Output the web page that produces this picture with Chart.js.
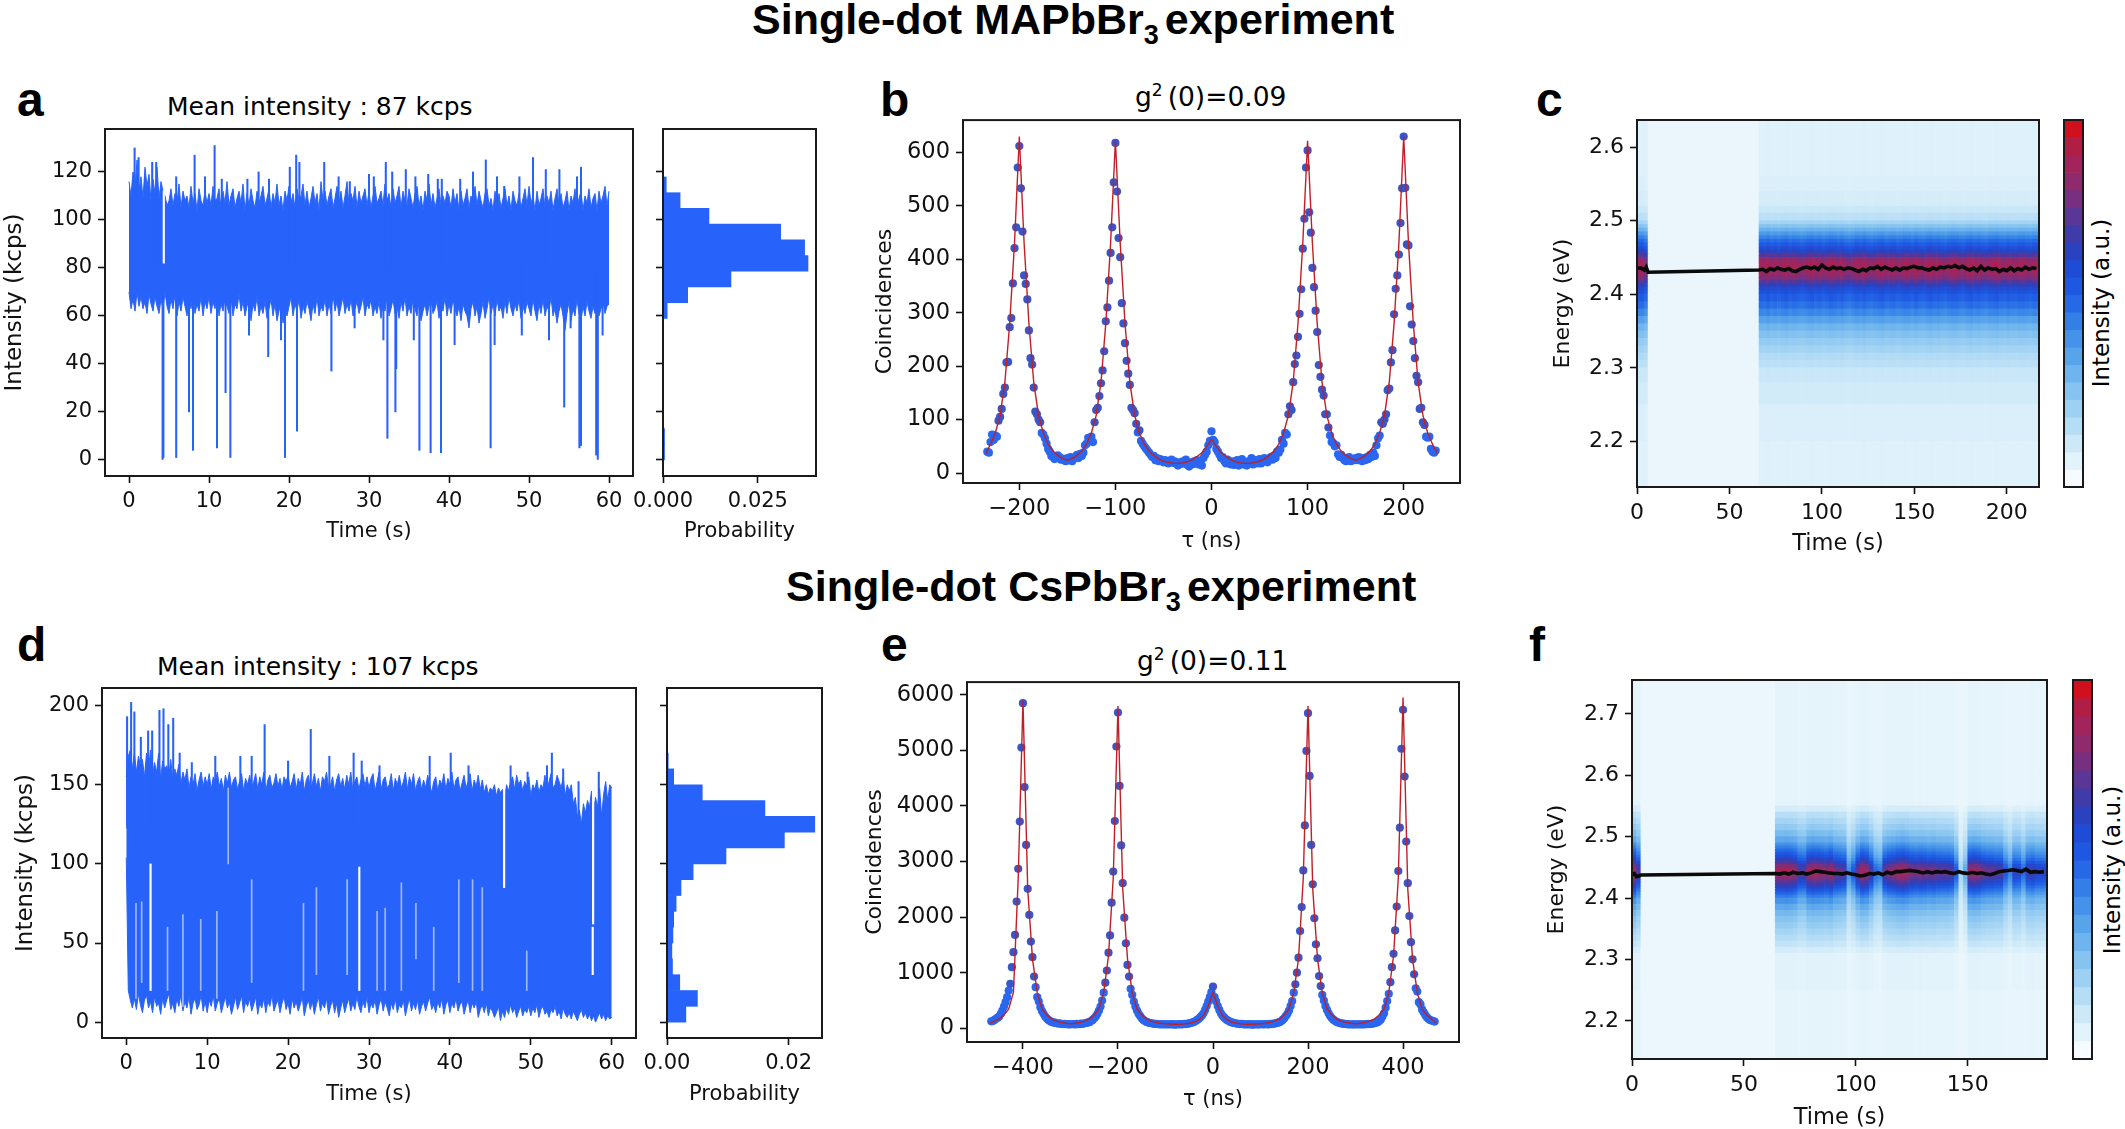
<!DOCTYPE html>
<html>
<head>
<meta charset="utf-8">
<title>Single-dot experiments</title>
<script src="https://cdn.jsdelivr.net/npm/chart.js@4/dist/chart.umd.min.js"></script>
<style>
    html, body { margin: 0; background: #fff; }
    #page { position: relative; width: 2125px; height: 1129px; overflow: hidden; }
    canvas { position: absolute; }
    .heading, .letter, .sub, .barlabel { position: absolute; white-space: nowrap; color: #000; line-height: 1; }
    .heading { font: bold 43px "Liberation Sans"; line-height: 1; }
    .heading sub { font-size: 27px; line-height: 0; margin-right: 6px; }
    .letter { font: bold 48px "Liberation Sans"; line-height: 1; }
    .sub { font: 25px "DejaVu Sans"; line-height: 1; }
    .sub.g { font-size: 26.5px; }
    .sub sup { font-size: 17px; line-height: 0; margin-right: 5px; }
    .barlabel { font: 23px "DejaVu Sans"; line-height: 1; transform: translate(-50%, -50%) rotate(-90deg); }
</style>
</head>
<body>
<div id="page">
    <div class="heading" style="left:752px;top:-2px">Single-dot MAPbBr<sub>3</sub>experiment</div>
    <div class="heading" style="left:786px;top:565px">Single-dot CsPbBr<sub>3</sub>experiment</div>
    <div class="letter" style="left:17px;top:76px">a</div>
    <div class="letter" style="left:880px;top:76px">b</div>
    <div class="letter" style="left:1536px;top:76px">c</div>
    <div class="letter" style="left:17px;top:621px">d</div>
    <div class="letter" style="left:881px;top:621px">e</div>
    <div class="letter" style="left:1529px;top:621px">f</div>
    <div class="sub" style="left:167px;top:94px">Mean intensity : 87 kcps</div>
    <div class="sub" style="left:157px;top:654px">Mean intensity : 107 kcps</div>
    <div class="sub g" style="left:1135px;top:84px">g<sup>2</sup>(0)=0.09</div>
    <div class="sub g" style="left:1137px;top:648px">g<sup>2</sup>(0)=0.11</div>
    <div class="barlabel" style="left:2101px;top:303px">Intensity (a.u.)</div>
    <div class="barlabel" style="left:2112px;top:870px">Intensity (a.u.)</div>
</div>
<script>
// panel a: intensity trace, envelope read every 0.25 s
const traceStep = 0.25;
const aTop = [
    116,110,120,113,125,112,118,109,122,114,119,108,117,111,122,109,116,112,110,106,108,113,106,111,107,115,105,112,108,110,105,114,107,111,104,113,108,106,112,107,
    111,106,114,108,109,113,105,112,107,116,106,110,113,105,109,112,107,115,104,111,106,113,108,105,112,107,110,114,106,109,113,105,111,107,115,106,110,104,112,108,
    114,107,111,105,113,108,110,115,106,112,105,109,114,107,111,104,116,108,112,106,110,113,105,109,114,107,112,105,110,116,106,111,108,114,105,112,107,110,113,106,
    112,105,110,114,107,109,112,106,115,108,111,105,113,107,110,114,105,112,108,106,113,109,105,111,114,106,110,104,112,108,115,106,111,105,109,113,106,110,107,112,
    110,105,113,107,111,104,112,106,109,113,105,110,107,114,106,112,108,105,111,113,106,109,104,112,107,111,105,109,113,106,110,104,112,108,106,111,105,109,113,106,
    114,107,110,104,112,106,109,113,105,110,107,112,104,109,113,106,111,105,108,112,104,110,107,113,105,109,112,104,110,107,113,105,109,111,104,112,107,110,114,106,
    112];
const aBottom = [
    70,63,67,62,70,64,68,63,66,61,69,65,62,68,64,61,67,63,70,64,61,67,63,69,60,66,62,68,64,60,67,63,69,61,65,62,68,60,66,63,
    68,61,66,63,69,60,65,62,67,64,61,68,60,65,63,69,62,66,60,64,67,58,65,62,68,60,64,61,66,59,63,67,60,65,58,62,66,57,63,60,
    64,68,60,65,62,67,59,64,61,66,63,58,65,61,68,60,64,62,67,60,65,61,69,62,66,60,64,68,61,65,62,67,60,63,66,61,64,68,60,65,
    63,67,60,64,61,66,59,65,62,68,60,63,67,61,64,59,66,62,68,60,64,61,67,63,60,66,58,62,65,60,64,67,61,63,66,59,64,62,68,60,
    65,61,67,63,60,64,58,65,62,60,55,63,66,60,64,57,61,66,59,63,68,61,65,60,67,62,64,59,66,61,68,63,60,65,62,67,59,64,61,66,
    63,60,67,62,58,65,61,67,60,64,62,68,60,63,57,62,65,60,54,61,66,58,63,60,67,61,58,64,60,66,62,59,64,61,67,60,63,66,61,64,
    65];
const aPeakTimes = [0.7,1.2,2.0,2.9,3.4,5.9,8.2,9.5,10.7,11.6,14.8,16.2,17.5,20.1,20.9,21.3,24.4,26.2,27.6,30.0,30.6,32.1,32.9,34.6,35.8,37.4,38.6,39.1,41.4,43.0,44.6,46.0,46.9,48.8,50.5,52.1,53.8,56.0,56.5];
const aPeakValues = [130,126,118,124,124,118,127,118,131,117,117,120,117,122,127,124,124,118,116,119,118,124,120,121,118,119,117,117,117,120,125,118,114,118,126,121,121,118,122];
const aDipTimes = [4.2,4.3,5.9,7.5,8.0,11.0,12.07,12.67,15.0,17.4,19.0,19.5,21.0,25.3,28.2,31.8,32.3,33.3,33.4,35.6,36.3,37.7,39.0,40.7,45.2,45.7,49.1,52.5,54.4,55.2,56.3,56.5,58.4,58.6,59.2];
const aDipValues = [0,1,1,20,4,5,28,1,52,43,50,1,12,37,55,50,9,20,38,50,4,3,3,48,5,48,52,50,22,55,5,6,2,0,52];
const aGapTimes = [4.35];
const aGapLow = [82];
const aGapHigh = [112];
const aHistCenters = [3.28,9.83,16.38,22.93,29.48,36.03,42.58,49.13,55.68,62.23,68.78,75.33,81.88,88.43,94.98,101.53,108.08,114.63];
const aHistValues = [0.0004,0.0004,0,0,0,0,0,0,0.0001,0.0011,0.0065,0.0179,0.0382,0.0373,0.031,0.0121,0.0045,0.00085];

// panel d: intensity trace
const dTop = [
    155,168,172,160,170,158,168,162,166,155,170,160,172,156,164,158,170,154,165,160,162,155,166,152,160,156,163,150,158,153,160,148,155,150,157,146,153,158,149,155,
    150,157,147,155,152,158,149,154,146,156,151,158,148,153,155,147,152,157,146,154,150,156,148,152,157,147,155,150,158,146,153,156,148,151,157,149,154,147,155,152,
    156,148,152,157,147,154,150,158,146,153,156,147,151,157,149,154,146,155,152,158,148,150,155,146,153,157,149,154,147,156,150,158,146,152,155,147,153,157,149,155,
    148,154,157,146,152,158,147,153,155,148,150,157,146,154,150,156,148,152,158,147,155,150,157,146,152,155,147,153,148,156,150,145,152,155,146,153,150,157,147,154,
    150,158,147,153,155,146,151,156,148,152,157,146,153,149,156,147,153,145,150,144,148,146,150,143,148,145,147,142,150,146,152,155,147,156,150,153,146,152,149,155,
    143,150,147,153,145,150,148,156,146,152,157,148,150,156,152,148,155,143,150,146,150,138,142,130,134,125,138,132,140,136,146,134,142,136,148,130,144,152,140,150,
    148];
const dBottom = [
    104,20,14,9,15,8,18,11,6,14,17,9,13,6,16,10,12,5,15,9,14,18,8,12,6,15,10,17,7,13,9,16,5,12,15,8,11,17,7,13,
    6,14,10,17,7,12,15,6,11,16,9,13,5,10,16,8,12,17,6,13,10,15,7,11,16,5,12,9,15,6,13,10,17,7,11,14,6,12,16,8,
    12,5,15,9,13,7,11,16,4,10,14,8,13,5,11,16,7,12,9,15,5,10,14,6,12,3,9,14,6,11,15,7,12,8,16,10,6,13,9,16,
    6,12,9,14,5,11,15,7,13,9,4,12,8,15,6,11,9,14,4,10,15,7,12,8,14,5,10,13,7,12,16,8,11,6,13,9,15,5,11,14,
    6,12,9,15,7,11,13,5,10,14,6,12,9,13,3,8,11,6,12,4,9,7,3,6,10,1,7,3,9,5,11,6,9,3,7,10,4,8,6,10,
    4,9,6,11,3,8,10,5,7,3,8,6,10,4,7,2,9,5,3,6,2,7,4,1,5,8,3,6,2,5,1,4,0,3,6,2,5,1,4,2,
    3];
const dPeakTimes = [0.1,0.6,1.0,1.8,2.7,3.2,4.1,4.6,5.2,5.8,6.6,8.1,11,14.1,15.5,17.1,20,22.8,25.1,28.1,29.1,31.3,37.5,40.1,42.3,47.5,49.6,52,52.6,54,55.9,58.4];
const dPeakValues = [193,202,196,180,184,184,197,198,188,192,170,164,168,168,168,188,165,185,168,170,165,162,168,170,162,162,158,162,170,160,152,158];
const dGapTimes = [3.0,28.8,46.7,57.7,57.65];
const dGapLow = [20,20,85,62,30];
const dGapHigh = [100,98,150,150,60];
const dThinGapTimes = [1.2,1.9,5.1,7.0,9.2,11.2,12.6,15.5,21.9,23.5,27.3,31,32,34,35.8,38,41.1,42.8,44,49.5];
const dThinGapLow = [15,25,20,10,20,15,100,25,20,30,30,20,20,20,40,20,25,20,20,20];
const dThinGapHigh = [75,76,60,68,65,70,148,90,75,85,90,70,72,88,75,60,90,90,85,45];
const dHistCenters = [5,15,25,35,45,55,65,75,85,95,105,115,125,135,145,155,165];
const dHistValues = [0.0031,0.005,0.0021,0.0009,0.0008,0.00097,0.0011,0.0015,0.0023,0.0043,0.0097,0.0193,0.0243,0.0161,0.0058,0.0011,0.0002];

// panels b and e: coincidence bins, one value per bin from the first bin onwards
const bFirstTau = -233.33;
const bTauStep = 5 / 3;
const bCounts = [
    40,38,58,72,62,70,68,98,105,120,148,160,207,208,273,290,355,421,460,572,
    612,
    533,452,370,354,325,267,215,203,160,115,110,100,95,75,72,65,55,45,40,32,30,26,28,33,30,25,27,24,22,28,
    24,30,22,26,30,34,28,36,32,38,52,55,66,60,68,58,95,118,122,144,168,192,228,284,310,360,412,460,544,
    618,
    527,440,404,318,280,243,210,186,165,122,118,112,92,76,80,60,55,50,46,42,38,34,30,32,24,28,22,26,24,20,
    24,20,18,22,25,19,22,18,14,20,17,22,18,25,15,12,20,16,22,18,24,16,20,14,28,34,40,52,60,
    78,
    62,58,45,40,34,28,30,22,18,25,20,16,22,15,18,24,14,19,26,16,20,14,22,18,28,16,24,20,18,26,
    18,22,28,24,20,26,30,25,32,28,40,38,44,62,55,75,72,110,125,118,170,204,220,255,298,344,420,476,572,
    604,
    488,450,384,348,304,264,202,180,156,145,110,110,85,70,58,56,50,52,35,30,34,28,24,22,26,30,22,25,24,28,
    24,30,26,22,28,24,30,26,34,30,38,32,52,65,70,95,92,100,110,155,158,207,230,297,345,370,409,468,533,
    630,
    534,428,426,312,278,247,215,182,170,120,122,95,90,68,66,68,45,40,38,42];
const bFitTau = [-235,-230,-225,-220,-215,-210,-205,-200,-195,-190,-185,-180,-175,-170,-165,-160,-155,-150,-145,-140,-135,-130,-125,-120,-115,-110,-105,-100,-95,-90,-85,-80,-75,-70,-65,-60,-55,-50,-45,-40,-35,-30,-25,-20,-15,-10,-5,0,5,10,15,20,25,30,35,40,45,50,55,60,65,70,75,80,85,90,95,100,105,110,115,120,125,130,135,140,145,150,155,160,165,170,175,180,185,190,195,200,205,210,215,220,225,230,235];
const bFitCounts = [36,54,75,108,170,280,430,630,430,280,170,108,75,54,41,33,27,24,27,33,41,54,75,108,170,280,430,622,430,280,170,108,75,54,41,33,26,22,20,18,18,19,21,25,31,38,50,63,50,38,31,25,21,19,18,18,20,22,26,33,41,54,75,108,170,280,430,622,430,280,170,108,75,54,41,33,27,24,27,33,41,54,75,108,170,280,430,630,430,280,170,108,75,54,36];

const eFirstTau = -466.67;
const eTauStep = 10 / 3;
const eCounts = [
    125,130,150,170,190,210,260,320,390,470,560,680,800,1100,1370,1680,2280,2870,3720,5050,
    5850,
    4340,3300,2510,2040,1560,1280,930,740,560,480,380,310,260,210,180,150,130,115,105,100,95,85,90,80,75,80,72,75,70,72,
    72,75,70,80,72,78,85,80,90,95,105,110,130,150,180,210,260,320,390,500,640,820,1040,1360,1670,2260,2820,3730,5070,
    5680,
    4360,3290,2610,1990,1530,1140,930,710,600,480,390,320,260,220,180,150,130,115,105,95,90,85,80,78,75,72,70,75,68,72,
    70,72,68,75,70,65,72,68,75,70,72,78,75,82,88,95,105,115,130,150,170,200,230,270,330,400,480,560,650,
    750,
    560,480,400,330,270,225,195,165,145,130,115,105,95,90,85,80,75,78,72,70,72,68,75,70,65,70,72,68,70,72,
    72,68,75,72,70,78,75,82,85,90,100,110,125,150,180,220,260,320,400,490,640,790,1000,1270,1750,2180,2840,3650,4990,
    5670,
    4540,3300,2590,1980,1510,1260,940,760,600,500,400,330,270,220,185,155,135,115,105,95,88,82,78,75,72,70,72,68,70,72,
    68,72,70,72,68,75,72,78,75,80,85,90,100,110,130,160,210,270,370,490,620,830,1100,1340,1760,2190,2830,3610,5030,
    5730,
    4530,3360,2610,2020,1550,1240,970,720,660,470,430,340,290,240,200,170,150,140,130,120];
const eFitTau = [-470,-460,-450,-440,-430,-420,-410,-400,-390,-380,-370,-360,-350,-340,-330,-320,-310,-300,-290,-280,-270,-260,-250,-240,-230,-220,-210,-200,-190,-180,-170,-160,-150,-140,-130,-120,-110,-100,-90,-80,-70,-60,-50,-40,-30,-20,-10,0,10,20,30,40,50,60,70,80,90,100,110,120,130,140,150,160,170,180,190,200,210,220,230,240,250,260,270,280,290,300,310,320,330,340,350,360,370,380,390,400,410,420,430,440,450,460,470];
const eFitCounts = [90,130,170,240,350,650,2700,5900,2500,1250,640,350,240,170,130,105,90,80,90,105,130,170,240,350,650,1300,2700,5800,2500,1250,640,350,240,170,130,105,90,80,76,72,72,80,90,110,150,230,400,640,400,230,150,110,90,80,72,72,76,80,90,105,130,170,240,350,640,1250,2700,5800,2500,1250,640,350,240,170,130,105,90,80,90,105,130,170,240,350,640,1300,2700,5950,2500,1250,640,350,240,170,90];

// panels c and f: spectra over time, energy bands times a gain per 2 s column
const columnWidth = 2;
const cEnergyEdges = [2.138,2.2,2.25,2.28,2.30,2.31,2.32,2.33,2.34,2.35,2.36,2.37,2.38,2.39,2.40,2.405,2.41,2.415,2.42,2.425,2.43,2.435,2.44,2.445,2.45,2.455,2.46,2.465,2.47,2.475,2.48,2.485,2.49,2.495,2.50,2.51,2.52,2.54,2.56,2.637];
const cBandLevels = [.03,.04,.06,.08,.11,.13,.16,.19,.23,.27,.33,.40,.46,.51,.55,.59,.64,.72,.80,.85,.87,.88,.87,.82,.72,.63,.57,.52,.47,.41,.35,.28,.22,.16,.11,.08,.05,.04,.03];
const cFloor = 0.03;
const cColumnGain = [
    1,1,.92,
    0,0,0,0,0,0,0,0,0,0,0,0,0,0,0,0,0,0,0,0,0,0,0,0,0,0,0,0,0,0,
    1,.98,1.02,.97,1,.96,1,1.02,.97,1,.98,.95,.97,1,1.02,.98,1,.96,.99,1.02,
    1,.97,1,.95,.93,.96,1,.98,1.01,.97,.95,.98,1,1.02,.97,.99,1,.96,.98,1.01,
    1,.97,1.02,.98,.96,1,1.02,.98,1,.97,.95,.99,1.01,1,.97,.96,1,1.02,.98,1,
    .97,.95,.99,1,1.02,.98,.96,1,.98,.97,1,1,.98,.96,1,1];
const cPeakEarlyTimes = [0,2,4,5,6];
const cPeakEarlyEnergy = [2.435,2.436,2.433,2.437,2.43];
const cPeakLateStart = 66;
const cPeakLateEnergy = [
    2.433,2.434,2.431,2.435,2.433,2.436,2.434,2.433,2.435,2.432,2.431,2.434,2.436,2.437,2.435,2.437,2.434,2.44,2.436,2.434,
    2.437,2.435,2.436,2.434,2.436,2.435,2.433,2.431,2.434,2.432,2.436,2.435,2.438,2.434,2.437,2.435,2.433,2.436,2.433,2.436,
    2.435,2.437,2.438,2.436,2.436,2.434,2.433,2.436,2.434,2.437,2.436,2.438,2.437,2.439,2.436,2.438,2.435,2.433,2.436,2.432,
    2.438,2.433,2.436,2.434,2.435,2.431,2.434,2.432,2.436,2.432,2.435,2.433,2.437,2.434,2.436,2.435];
const fEnergyEdges = [2.138,2.25,2.31,2.32,2.33,2.34,2.35,2.36,2.37,2.38,2.39,2.40,2.405,2.41,2.415,2.42,2.425,2.43,2.435,2.44,2.445,2.45,2.455,2.46,2.465,2.47,2.475,2.48,2.485,2.49,2.50,2.51,2.52,2.53,2.54,2.55,2.60,2.755];
const fBandLevels = [.02,.03,.06,.10,.13,.16,.19,.22,.26,.31,.37,.43,.49,.55,.62,.68,.74,.80,.85,.88,.85,.79,.71,.63,.57,.52,.47,.42,.37,.31,.25,.20,.16,.12,.06,.02,.02];
const fFloor = 0.025;
const fColumnGain = [
    1,.8,
    0,0,0,0,0,0,0,0,0,0,0,0,0,0,0,0,0,0,0,0,0,0,0,0,0,0,0,0,0,0,
    1,1,1.02,1,.95,.82,.8,.98,1.02,1,.98,.95,1,.88,.85,.82,.45,.6,.85,1,
    .95,.78,.55,.5,.85,.92,.95,1,1.02,.98,.92,.9,.92,.9,.88,.9,.86,.85,.85,.82,
    .6,.18,.35,.95,.98,.95,.88,.85,.85,.82,.82,.62,.48,.72,.7,.55,.75,.78,.72,.72,
    .7];
const fPeakEarlyTimes = [0,1,2,3,4];
const fPeakEarlyEnergy = [2.438,2.44,2.435,2.436,2.4375];
const fPeakLateStart = 64;
const fPeakLateEnergy = [
    2.44,2.439,2.441,2.439,2.442,2.44,2.441,2.439,2.441,2.444,2.443,2.442,2.441,2.44,2.44,2.439,2.441,2.439,2.438,2.436,
    2.437,2.44,2.439,2.441,2.438,2.442,2.44,2.443,2.443,2.444,2.445,2.444,2.443,2.441,2.443,2.441,2.443,2.442,2.443,2.441,
    2.44,2.443,2.441,2.44,2.442,2.44,2.441,2.439,2.438,2.44,2.443,2.444,2.445,2.446,2.445,2.443,2.447,2.442,2.443,2.442,
    2.443];

const colorbarColors = ['#f5fbfe','#e3f3fb','#cde9f8','#b6ddf6','#9dd0f3','#86c3f0','#6eb4ee','#58a4eb','#4492e9','#337ee7','#2569e6','#1e58e2','#1f4cd6','#2b42c0','#3f3ba9','#5a3697','#76307f','#8f2a6c','#a3245a','#b01e45','#d0101c'];

// axes
const timeTicks = [0,10,20,30,40,50,60];
const aIntensityTicks = [0,20,40,60,80,100,120];
const dIntensityTicks = [0,50,100,150,200];
const aProbTicks = [0,0.025];
const aProbLabels = ['0.000','0.025'];
const dProbTicks = [0,0.02];
const dProbLabels = ['0.00','0.02'];
const bTauTicks = [-200,-100,0,100,200];
const bTauLabels = ['\u2212200','\u2212100','0','100','200'];
const bCountTicks = [0,100,200,300,400,500,600];
const eTauTicks = [-400,-200,0,200,400];
const eTauLabels = ['\u2212400','\u2212200','0','200','400'];
const eCountTicks = [0,1000,2000,3000,4000,5000,6000];
const cTimeTicks = [0,50,100,150,200];
const cEnergyTicks = [2.2,2.3,2.4,2.5,2.6];
const fTimeTicks = [0,50,100,150];
const fEnergyTicks = [2.2,2.3,2.4,2.5,2.6,2.7];

const traceBlue = '#2763fa';
const dotBlue = '#2a66f0';
const dotDark = '#3a55c8';
const fitRed = '#bf2026';

Chart.defaults.font.family = '"DejaVu Sans"';
Chart.defaults.color = '#111';

const framePlugin = {
    id: 'frame',
    afterDatasetsDraw(chart) {
        const { ctx, chartArea: a } = chart;
        ctx.save();
        ctx.strokeStyle = '#1a1a1a';
        ctx.lineWidth = 2;
        ctx.strokeRect(a.left, a.top, a.right - a.left, a.bottom - a.top);
        ctx.restore();
    }
};

function makeAxis(min, max, ticks, labels, title, size, isX, fontSize, titleSize) {
    return {
        type: 'linear',
        min: min,
        max: max,
        offset: false,
        afterBuildTicks: s => { s.ticks = ticks.map(value => ({ value })); },
        afterFit: s => {
            if (isX) s.height = size; else s.width = size;
            s.paddingLeft = s.paddingRight = s.paddingTop = s.paddingBottom = 0;
        },
        ticks: {
            autoSkip: false,
            maxRotation: 0,
            minRotation: 0,
            padding: isX ? 6 : 6,
            font: { size: fontSize },
            callback: (v, i) => labels ? labels[i] : String(v)
        },
        grid: { offset: false, drawOnChartArea: false, tickLength: 7, tickWidth: 1.6, tickColor: '#111' },
        border: { display: false },
        title: { display: !!title, text: title, padding: 0, font: { size: titleSize || 21, lineHeight: 1.2 } }
    };
}

// left, top, right, bottom are the plot frame on the page
function addChart(frame, padLeft, padBottom, config) {
    const canvas = document.createElement('canvas');
    const padTop = 4, padRight = 34;
    canvas.width = frame.right - frame.left + padLeft + padRight;
    canvas.height = frame.bottom - frame.top + padTop + padBottom;
    canvas.style.left = (frame.left - padLeft) + 'px';
    canvas.style.top = (frame.top - padTop) + 'px';
    document.getElementById('page').appendChild(canvas);
    config.options = Object.assign({
        responsive: false,
        animation: false,
        events: [],
        devicePixelRatio: 1,
        layout: { padding: { top: padTop, right: padRight, left: 0, bottom: 0 } },
        plugins: { legend: { display: false }, tooltip: { enabled: false } }
    }, config.options);
    config.plugins = [framePlugin];
    return new Chart(canvas.getContext('2d'), config);
}

function floatBars(times, low, high, color, thickness) {
    return {
        type: 'bar',
        grouped: false,
        barThickness: thickness,
        backgroundColor: color,
        data: times.map((t, i) => ({ x: t, y: [low[i], high[i]] }))
    };
}

function envelope(values) {
    return values.map((v, i) => ({ x: i * traceStep, y: v }));
}

function addTrace(frame, padLeft, padBottom, yMin, yMax, yTicks, peaks, dips, gaps, thinGaps, top, bottom) {
    const datasets = [];
    if (gaps) datasets.push(floatBars(gaps[0], gaps[1], gaps[2], '#fff', 1.5));
    if (thinGaps) datasets.push(floatBars(thinGaps[0], thinGaps[1], thinGaps[2], 'rgba(255,255,255,0.55)', 1));
    if (peaks) datasets.push(floatBars(peaks[0], peaks[0].map(() => yMin + (yMax - yMin) * 0.6), peaks[1], traceBlue, 1.4));
    if (dips) datasets.push(floatBars(dips[0], dips[1], dips[0].map(() => 80), traceBlue, 1.4));
    datasets.push({ type: 'line', data: envelope(top), borderColor: traceBlue, borderWidth: 1, pointRadius: 0, tension: 0, fill: '+1', backgroundColor: traceBlue });
    datasets.push({ type: 'line', data: envelope(bottom), borderColor: traceBlue, borderWidth: 1, pointRadius: 0, tension: 0, fill: false });
    addChart(frame, padLeft, padBottom, {
        type: 'line',
        data: { datasets },
        options: {
            scales: {
                x: makeAxis(-3, 63, timeTicks, null, 'Time (s)', padBottom, true, 21, 21),
                y: makeAxis(yMin, yMax, yTicks, null, 'Intensity (kcps)', padLeft, false, 21, 23)
            }
        }
    });
}

function addHistogram(frame, centers, values, xMax, xTicks, xLabels, yMin, yMax, yTicks, padBottom) {
    addChart(frame, 40, padBottom, {
        type: 'bar',
        data: {
            datasets: [{
                data: centers.map((c, i) => ({ x: values[i], y: c })),
                backgroundColor: traceBlue,
                barPercentage: 1,
                categoryPercentage: 1
            }]
        },
        options: {
            indexAxis: 'y',
            scales: {
                x: makeAxis(0, xMax, xTicks, xLabels, 'Probability', padBottom, true, 21, 21),
                y: makeAxis(yMin, yMax, yTicks, yTicks.map(() => ''), '', 40, false, 21)
            }
        }
    });
}

function addCoincidences(frame, padLeft, padBottom, firstTau, tauStep, counts, fitTau, fitCounts, xMax, tauTicks, tauLabels, yMin, yMax, countTicks) {
    addChart(frame, padLeft, padBottom, {
        type: 'scatter',
        data: {
            datasets: [
                { data: fitTau.map((t, i) => ({ x: t, y: fitCounts[i] })), showLine: true, borderColor: fitRed, borderWidth: 1.4, pointRadius: 0, tension: 0 },
                {
                    data: counts.map((c, i) => ({ x: firstTau + i * tauStep, y: c })),
                    pointRadius: 4.1,
                    pointBackgroundColor: counts.map(c => c > yMax * 0.12 ? dotDark : dotBlue),
                    pointBorderWidth: 0
                }
            ]
        },
        options: {
            scales: {
                x: makeAxis(-xMax, xMax, tauTicks, tauLabels, '\u03c4 (ns)', padBottom, true, 22.5, 21),
                y: makeAxis(yMin, yMax, countTicks, null, 'Coincidences', padLeft, false, 22.5, 22)
            }
        }
    });
}

function mixColor(v) {
    const pos = Math.max(0, Math.min(1, v)) * (colorbarColors.length - 1);
    const i = Math.min(Math.floor(pos), colorbarColors.length - 2);
    const f = pos - i;
    const a = parseInt(colorbarColors[i].slice(1), 16), b = parseInt(colorbarColors[i + 1].slice(1), 16);
    const ch = s => Math.round(((a >> s) & 255) * (1 - f) + ((b >> s) & 255) * f);
    return `rgb(${ch(16)},${ch(8)},${ch(0)})`;
}

function addSpectrum(frame, padLeft, padBottom, edges, levels, floor, gains, earlyT, earlyE, lateStart, lateE, xMax, xTicks, yMin, yMax, yTicks) {
    const times = gains.map((g, i) => i * columnWidth + columnWidth / 2);
    const peakLine = earlyT.map((t, i) => ({ x: t, y: earlyE[i] }))
        .concat(lateE.map((e, i) => ({ x: lateStart + i * columnWidth, y: e })));
    const datasets = [{ type: 'line', data: peakLine, borderColor: '#0a0a0a', borderWidth: 3.6, pointRadius: 0, tension: 0, fill: false }];
    levels.forEach((level, j) => {
        datasets.push({
            type: 'bar',
            grouped: false,
            barPercentage: 1,
            categoryPercentage: 1,
            data: times.map(t => ({ x: t, y: [edges[j], edges[j + 1]] })),
            backgroundColor: gains.map(g => mixColor(floor + g * level))
        });
    });
    addChart(frame, padLeft, padBottom, {
        type: 'line',
        data: { datasets },
        options: {
            scales: {
                x: makeAxis(0, xMax, xTicks, null, 'Time (s)', padBottom, true, 22, 22.5),
                y: makeAxis(yMin, yMax, yTicks, yTicks.map(v => v.toFixed(1)), 'Energy (eV)', padLeft, false, 22, 22)
            }
        }
    });
}

function addColorbar(frame) {
    addChart(frame, 2, 2, {
        type: 'bar',
        data: {
            datasets: [{
                data: colorbarColors.map((c, i) => ({ x: 0.5, y: [i, i + 1] })),
                backgroundColor: colorbarColors,
                barPercentage: 1,
                categoryPercentage: 1,
                grouped: false
            }]
        },
        options: {
            layout: { padding: { top: 4, right: 34, left: 2, bottom: 2 } },
            scales: {
                x: { type: 'linear', min: 0, max: 1, offset: false, display: false },
                y: { type: 'linear', min: 0, max: colorbarColors.length, offset: false, display: false }
            }
        }
    });
}

addTrace({ left: 105, top: 129, right: 633, bottom: 476 }, 104, 68, -6.7, 137.9, aIntensityTicks,
    [aPeakTimes, aPeakValues], [aDipTimes, aDipValues], [aGapTimes, aGapLow, aGapHigh], null, aTop, aBottom);
addHistogram({ left: 663, top: 129, right: 816, bottom: 476 }, aHistCenters, aHistValues, 0.0403, aProbTicks, aProbLabels, -6.7, 137.9, aIntensityTicks, 68);
addCoincidences({ left: 963, top: 120, right: 1460, bottom: 483 }, 91, 71, bFirstTau, bTauStep, bCounts, bFitTau, bFitCounts, 258.6, bTauTicks, bTauLabels, -18.7, 660.7, bCountTicks);
addSpectrum({ left: 1637, top: 120, right: 2039, bottom: 487 }, 87, 71, cEnergyEdges, cBandLevels, cFloor, cColumnGain, cPeakEarlyTimes, cPeakEarlyEnergy, cPeakLateStart, cPeakLateEnergy, 217.4, cTimeTicks, 2.138, 2.637, cEnergyTicks);
addColorbar({ left: 2064, top: 120, right: 2083, bottom: 487 });

addTrace({ left: 102, top: 688, right: 636, bottom: 1038 }, 90, 69, -10, 211.1, dIntensityTicks,
    [dPeakTimes, dPeakValues], null, [dGapTimes, dGapLow, dGapHigh], [dThinGapTimes, dThinGapLow, dThinGapHigh], dTop, dBottom);
addHistogram({ left: 667, top: 688, right: 822, bottom: 1038 }, dHistCenters, dHistValues, 0.02549, dProbTicks, dProbLabels, -10, 211.1, dIntensityTicks, 69);
addCoincidences({ left: 967, top: 682, right: 1459, bottom: 1042 }, 105, 70, eFirstTau, eTauStep, eCounts, eFitTau, eFitCounts, 517.8, eTauTicks, eTauLabels, -247, 6229, eCountTicks);
addSpectrum({ left: 1632, top: 680, right: 2047, bottom: 1059 }, 88, 73, fEnergyEdges, fBandLevels, fFloor, fColumnGain, fPeakEarlyTimes, fPeakEarlyEnergy, fPeakLateStart, fPeakLateEnergy, 185.4, fTimeTicks, 2.138, 2.755, fEnergyTicks);
addColorbar({ left: 2073, top: 680, right: 2092, bottom: 1059 });
</script>
</body>
</html>
